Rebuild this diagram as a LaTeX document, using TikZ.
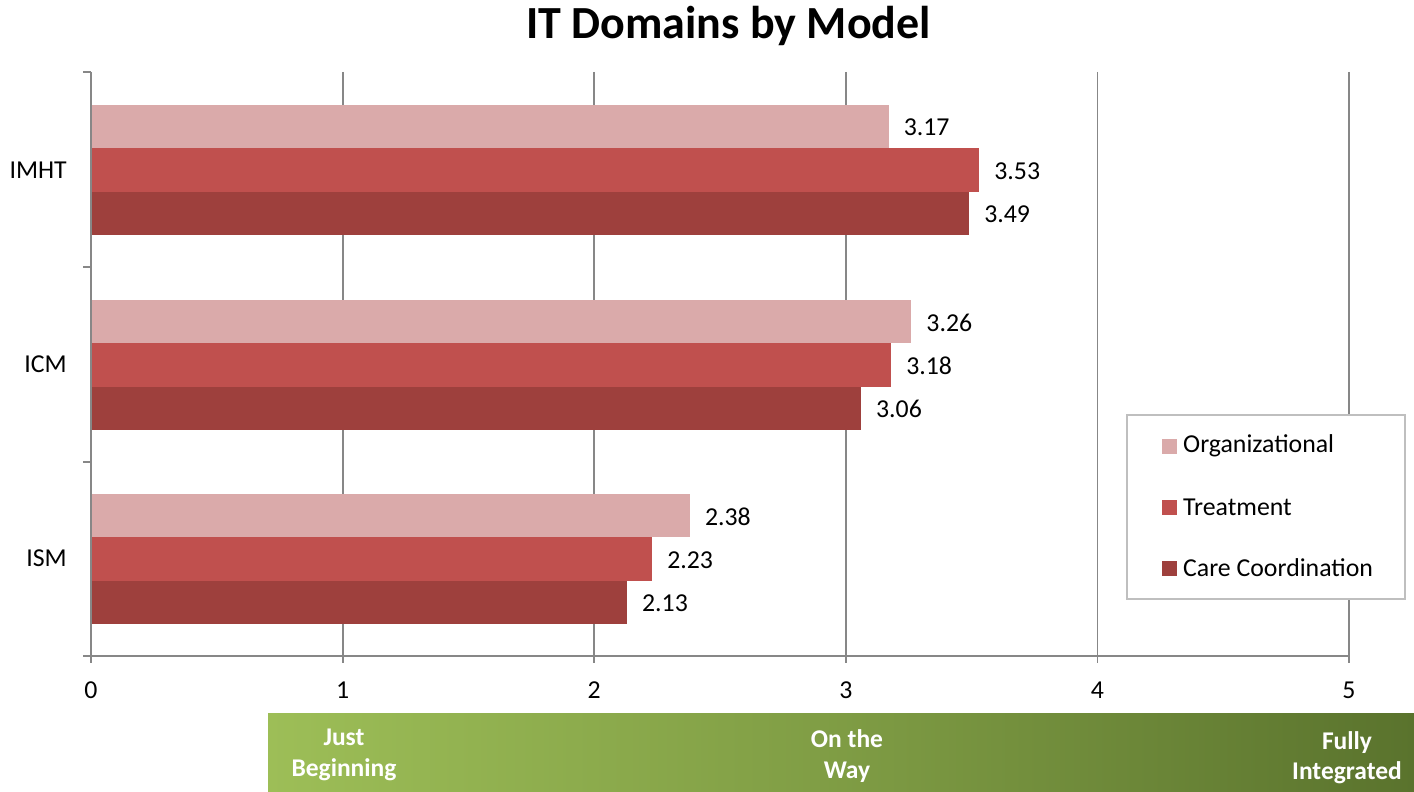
\documentclass[tikz,border=0pt]{standalone}
\usepackage{fontspec}
\setmainfont{Carlito}
\begin{document}
\begin{tikzpicture}[x=1pt,y=-1pt,
  grid/.style={draw=black!47,line width=1.8pt},
  lbl/.style={font=\fontsize{25.8}{30}\selectfont,text=black,inner sep=0pt},
  band/.style={font=\bfseries\fontsize{25.5}{31}\selectfont,text=white,inner sep=0pt,anchor=base},
  legsq/.style={minimum size=15pt,inner sep=0pt},
]
\definecolor{orgc}{RGB}{218,170,170}
\definecolor{trc}{RGB}{192,80,78}
\definecolor{ccc}{RGB}{158,64,61}
\definecolor{gl}{RGB}{157,190,87}
\definecolor{gr}{RGB}{90,115,45}
\useasboundingbox (0,0) rectangle (1414,792);
\fill[white] (0,0) rectangle (1414,792);
% title
\node[font=\bfseries\fontsize{46}{52}\selectfont,inner sep=0pt,anchor=base] (title) at (728.5,39) {IT Domains by Model};
% gridlines
\foreach \v in {1,2,3,4,5}{
  \draw[grid] ({91+\v*251.6},72) -- ({91+\v*251.6},663);
}
% bars
\def\bh{43.3}
\foreach \y/\o/\t/\c in {105/3.17/3.53/3.49, 300/3.26/3.18/3.06, 494/2.38/2.23/2.13}{
  \fill[orgc] (91,\y) rectangle ({91+\o*251.6},\y+\bh);
  \fill[trc] (91,\y+\bh) rectangle ({91+\t*251.6},\y+2*\bh);
  \fill[ccc] (91,\y+2*\bh) rectangle ({91+\c*251.6},\y+3*\bh);
  \node[lbl,anchor=west] at ({91+\o*251.6+15},\y+0.5*\bh+1) {\o};
  \node[lbl,anchor=west] at ({91+\t*251.6+15},\y+1.5*\bh+1) {\t};
  \node[lbl,anchor=west] at ({91+\c*251.6+15},\y+2.5*\bh+1) {\c};
}
% axes
\draw[grid] (91,72) -- (91,663);
\draw[grid] (83,656) -- (1349,656);
\foreach \y in {72,267,462}{ \draw[grid] (83,\y) -- (91,\y); }
% tick labels
\foreach \v in {0,1,2,3,4,5}{
  \node[lbl] (t\v) at ({91+\v*251.6},690) {\v};
}
% category labels
\node[lbl,anchor=east] (imht) at (67,170) {IMHT};
\node[lbl,anchor=east] (icm) at (67,364) {ICM};
\node[lbl,anchor=east] (ism) at (67,558) {ISM};
% legend
\draw[draw=black!25,line width=1.6pt,fill=white] (1127,415) rectangle (1405,599);
\node[legsq,fill=orgc] (l1) at (1169.5,446) {};
\node[legsq,fill=trc] (l2) at (1169.5,507) {};
\node[legsq,fill=ccc] (l3) at (1169.5,568) {};
\node[lbl,anchor=west] (lt1) at (1183,446) {Organizational};
\node[lbl,anchor=west] (lt2) at (1183,507) {Treatment};
\node[lbl,anchor=west] (lt3) at (1183,568) {Care Coordination};
% green band
\shade[left color=gl,right color=gr,middle color=gl!55!gr] (268,713) rectangle (1414,792);
\node[band] (jb1) at (344,745) {Just};
\node[band] (jb2) at (344,776) {Beginning};
\node[band] (ow1) at (847,747) {On the};
\node[band] (ow2) at (847,778) {Way};
\node[band] (fi1) at (1347,749) {Fully};
\node[band] (fi2) at (1347,779) {Integrated};
\end{tikzpicture}
\end{document}
